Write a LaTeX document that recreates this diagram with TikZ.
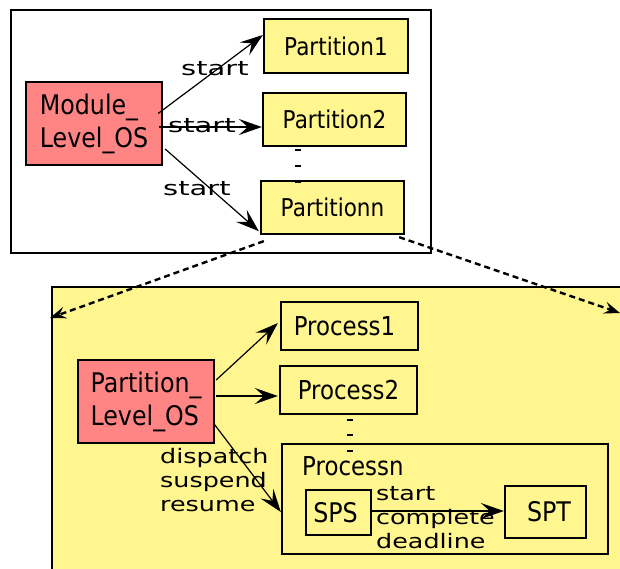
\documentclass[tikz,border=0pt]{standalone}
\usepackage{fontspec}
\setmainfont{DejaVu Sans}
\newfontfamily\boxfont[FakeStretch=0.88]{DejaVu Sans}
\newfontfamily\labtop[FakeStretch=1.45]{DejaVu Sans}
\newfontfamily\lablow[FakeStretch=1.27]{DejaVu Sans}
\usetikzlibrary{arrows.meta,calc}
\definecolor{pinkc}{HTML}{FF8585}
\definecolor{yellowc}{HTML}{FFF68F}
\tikzset{
  box/.style={draw=black, line width=2.3pt, inner sep=0pt, font=\boxfont\fontsize{24.5}{28}\selectfont},
  pinkbox/.style={box, fill=pinkc, font=\boxfont\fontsize{27}{33}\selectfont, align=left},
  ybox/.style={box, fill=yellowc},
  arr/.style={-{Stealth[length=23pt,width=16pt,inset=9pt]}, line width=1.2pt},
  dasharr/.style={-{Stealth[length=16pt,width=12pt,inset=6pt]}, line width=2.4pt, dash pattern=on 6pt off 4pt},
  toplab/.style={font=\labtop\fontsize{20}{24}\selectfont, inner sep=0pt},
  lowlab/.style={font=\lablow\fontsize{20}{24}\selectfont, inner sep=0pt, align=left},
}
\begin{document}
\begin{tikzpicture}[x=1pt,y=-1pt]
\useasboundingbox (0,0) rectangle (620,568);
% top module box
\draw[line width=2.5pt] (11,10) rectangle (431,253);
% bottom partition area
\fill[yellowc] (52,287) rectangle (625,575);
\draw[line width=2.5pt] (52,575) -- (52,287) -- (625,287);

\node[pinkbox, minimum width=136pt, minimum height=83pt] (mod) at (94,123.5) {Module\_\\Level\_OS};
\node[ybox, minimum width=144pt, minimum height=54pt] (p1) at (336,46) {Partition1};
\node[ybox, minimum width=143pt, minimum height=53pt] (p2) at (334.5,119.5) {Partition2};
\node[ybox, minimum width=143pt, minimum height=53pt] (pn) at (332.5,207.5) {Partitionn};

\foreach \yy in {150,166,182} \fill (295,\yy-1.2) rectangle (301,\yy+1.2);

\draw[arr] ([shift={(-5pt,10pt)}]mod.east) -- ([yshift=11pt]p1.west);
\draw[arr] ([shift={(-4pt,-3.5pt)}]mod.east) -- ([shift={(0pt,-7.5pt)}]p2.west);
\draw[arr] ([shift={(2pt,-25.5pt)}]mod.east) -- ([shift={(-1pt,4pt)}]pn.south west);
\node[toplab] (s1) at (215,69) {start};
\node[toplab] (s2) at (202,126) {start};
\node[toplab] (s3) at (197,189) {start};

\coordinate (bl) at (50,318);
\coordinate (br) at (620,313);
\draw[dasharr] ([shift={(4pt,-6pt)}]pn.south west) -- (bl);
\draw[dasharr] ([shift={(-6pt,-2pt)}]pn.south east) -- (br);

\node[pinkbox, minimum width=136pt, minimum height=83pt] (pl) at (146,401.5) {Partition\_\\Level\_OS};
\node[ybox, font=\boxfont\fontsize{26}{30}\selectfont, minimum width=137pt, minimum height=48pt] (pr1) at (349.5,326) {\hspace*{-10pt}Process1};
\node[ybox, font=\boxfont\fontsize{26}{30}\selectfont, minimum width=137pt, minimum height=48pt] (pr2) at (348.5,390) {Process2};
\node[ybox, minimum width=326pt, minimum height=110pt] (prn) at (445,499) {};
\node[anchor=west, inner sep=0pt, font=\boxfont\fontsize{26}{30}\selectfont] (prnlab) at (302,466) {Processn};
\node[ybox, font=\boxfont\fontsize{27}{30}\selectfont, minimum width=65pt, minimum height=45pt] (sps) at (338.5,512.5) {\hspace*{-6pt}SPS};
\node[ybox, font=\boxfont\fontsize{27}{30}\selectfont, minimum width=81pt, minimum height=52pt] (spt) at (545.5,512) {\hspace*{7pt}SPT};

\foreach \yy in {420,435,451} \fill (347,\yy-1.2) rectangle (353,\yy+1.2);

\draw[arr] ([shift={(1pt,21.5pt)}]pl.east) -- ([shift={(-2pt,3pt)}]pr1.west);
\draw[arr] ([shift={(1pt,5.5pt)}]pl.east) -- ([shift={(-1pt,-6pt)}]pr2.west);
\draw[arr] ([shift={(-1pt,-22.5pt)}]pl.east) -- ([shift={(0pt,-13pt)}]prn.west);
\draw[arr] ([shift={(-1pt,1.5pt)}]sps.east) -- ([shift={(0pt,1pt)}]spt.west);

\node[lowlab, anchor=west] (dsr) at (160,480) {dispatch\\suspend\\resume};
\node[lowlab, anchor=west] (scd) at (376,518) {start\\complete\\deadline};
\end{tikzpicture}
\end{document}
